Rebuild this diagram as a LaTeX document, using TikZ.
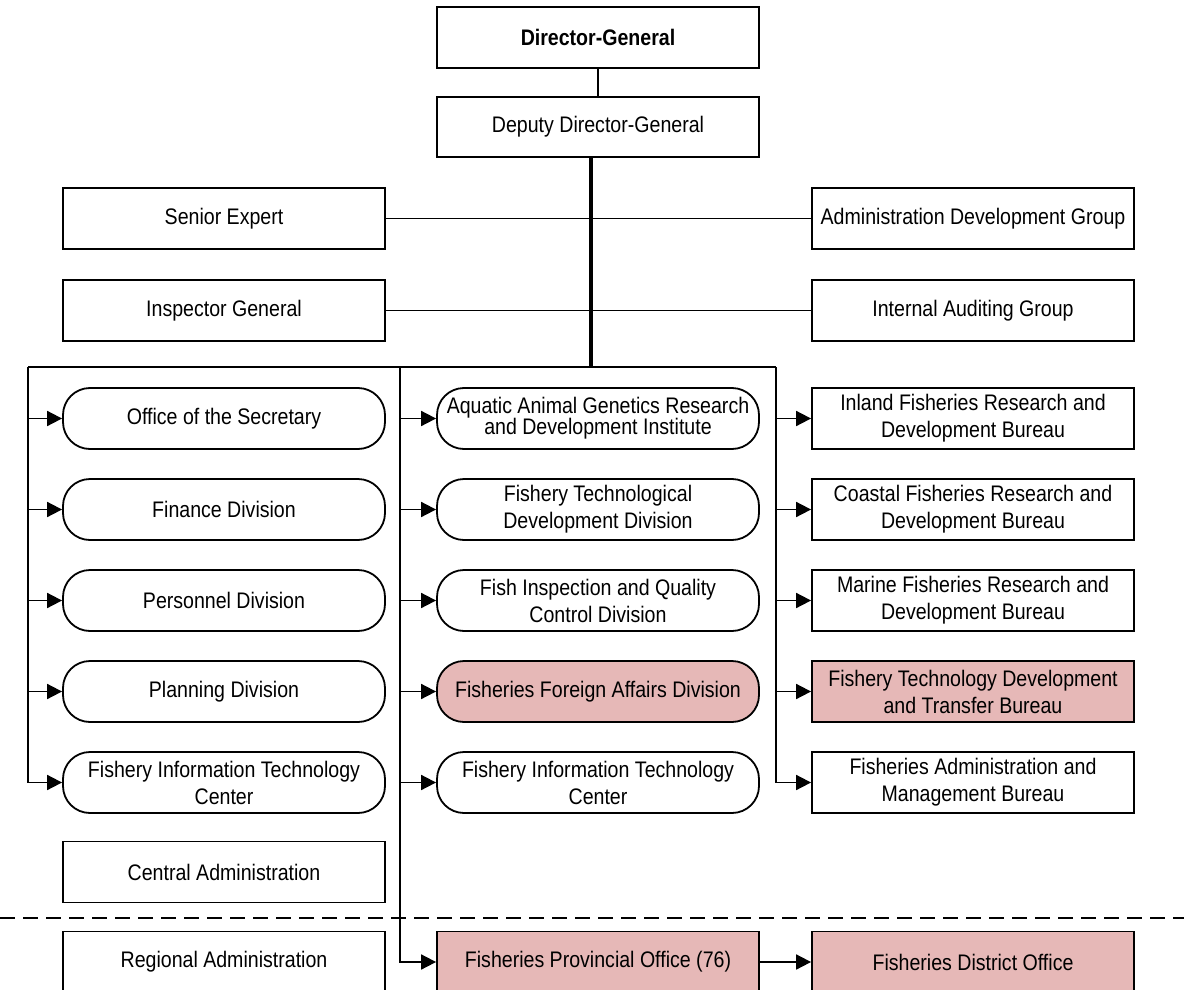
\documentclass[tikz,border=0pt]{standalone}
\usepackage{fontspec}
\usetikzlibrary{arrows.meta}
\newfontfamily\orgfont[FakeStretch=0.87]{Liberation Sans}
\newcommand\boxfont{\orgfont\fontsize{22.5pt}{27pt}\selectfont}
\definecolor{pinkfill}{HTML}{E6B8B7}
\tikzset{
  box/.style={draw, line width=1.8pt, minimum width=322pt, minimum height=61pt,
    inner sep=0pt, align=center, font=\boxfont, text=black},
  pill/.style={box, rounded corners=27pt},
  hilite/.style={fill=pinkfill},
  link/.style={line width=1.8pt},
  arr/.style={link, -{Triangle[length=15pt,width=15pt]}},
  trunkline/.style={line width=3.4pt},
}
\begin{document}
\begin{tikzpicture}[x=1pt,y=-1pt]
\useasboundingbox (0,0) rectangle (1184,990);

% top of the hierarchy
\node[box, font=\boxfont\bfseries] (dg) at (598,37.5) {Director-General};
\node[box, minimum height=60pt] (dep) at (598,127) {Deputy Director-General};

% staff units beside the trunk
\node[box] (senior) at (224,218.5) {Senior Expert};
\node[box] (adg)    at (973,218.5) {Administration Development Group};
\node[box] (insp)   at (224,310.5) {Inspector General};
\node[box] (iag)    at (973,310.5) {Internal Auditing Group};

% left column
\node[pill] (off)  at (224,418.5) {Office of the Secretary};
\node[pill] (fin)  at (224,509.5) {Finance Division};
\node[pill] (per)  at (224,600.5) {Personnel Division};
\node[pill] (pla)  at (224,691.5) {Planning Division};
\node[pill] (fitl) at (224,782.5) {Fishery Information Technology\\Center};
\node[box]  (cadm) at (224,872)   {Central Administration};

% middle column
\node[pill] (aq)   at (598,418.5) {Aquatic Animal Genetics Research\\[-6pt]and Development Institute};
\node[pill] (ftd)  at (598,509.5) {Fishery Technological\\Development Division};
\node[pill] (fiq)  at (598,600.5) {Fish Inspection and Quality\\Control Division};
\node[pill, hilite] (ffa) at (598,691.5) {Fisheries Foreign Affairs Division};
\node[pill] (fitm) at (598,782.5) {Fishery Information Technology\\Center};

% right column
\node[box] (ifr)  at (973,418.5) {Inland Fisheries Research and\\Development Bureau};
\node[box] (cfr)  at (973,509.5) {Coastal Fisheries Research and\\Development Bureau};
\node[box] (mfr)  at (973,600.5) {Marine Fisheries Research and\\Development Bureau};
\node[box, hilite] (ftdt) at (973,691.5) {Fishery Technology Development\\and Transfer Bureau};
\node[box] (fam)  at (973,782.5) {Fisheries Administration and\\Management Bureau};

% regional level
\node[box] (reg) at (224,962) {Regional Administration};
\node[box, hilite] (prov) at (598,962) {Fisheries Provincial Office (76)};
\node[box, hilite] (dist) at (973,962) {Fisheries District Office};

% bus coordinates
\coordinate (busC) at (591,367);
\coordinate (busL) at (28,367);
\coordinate (busM) at (400,367);
\coordinate (busR) at (776,367);
\coordinate (dashL) at (0,918);
\coordinate (dashR) at (1184,918);

% connectors
\draw[link] (dg) -- (dep);
\draw[link] (senior.east) -- (adg.west);
\draw[link] (insp.east) -- (iag.west);
\draw[trunkline] (dep.south -| busC) -- (busC);
\draw[link] (busL) -- (busR);

\draw[arr] (busL) |- (fitl.west);
\foreach \n in {off,fin,per,pla}
  \draw[arr] (busL |- \n.west) -- (\n.west);

\draw[arr] (busM) |- (prov.west);
\foreach \n in {aq,ftd,fiq,ffa,fitm}
  \draw[arr] (busM |- \n.west) -- (\n.west);

\draw[arr] (busR) |- (fam.west);
\foreach \n in {ifr,cfr,mfr,ftdt}
  \draw[arr] (busR |- \n.west) -- (\n.west);

\draw[arr] (prov) -- (dist);

% boundary between central and regional administration
\draw[line width=1.6pt, dash pattern=on 15pt off 8pt] (dashL) -- (dashR);
\end{tikzpicture}
\end{document}
